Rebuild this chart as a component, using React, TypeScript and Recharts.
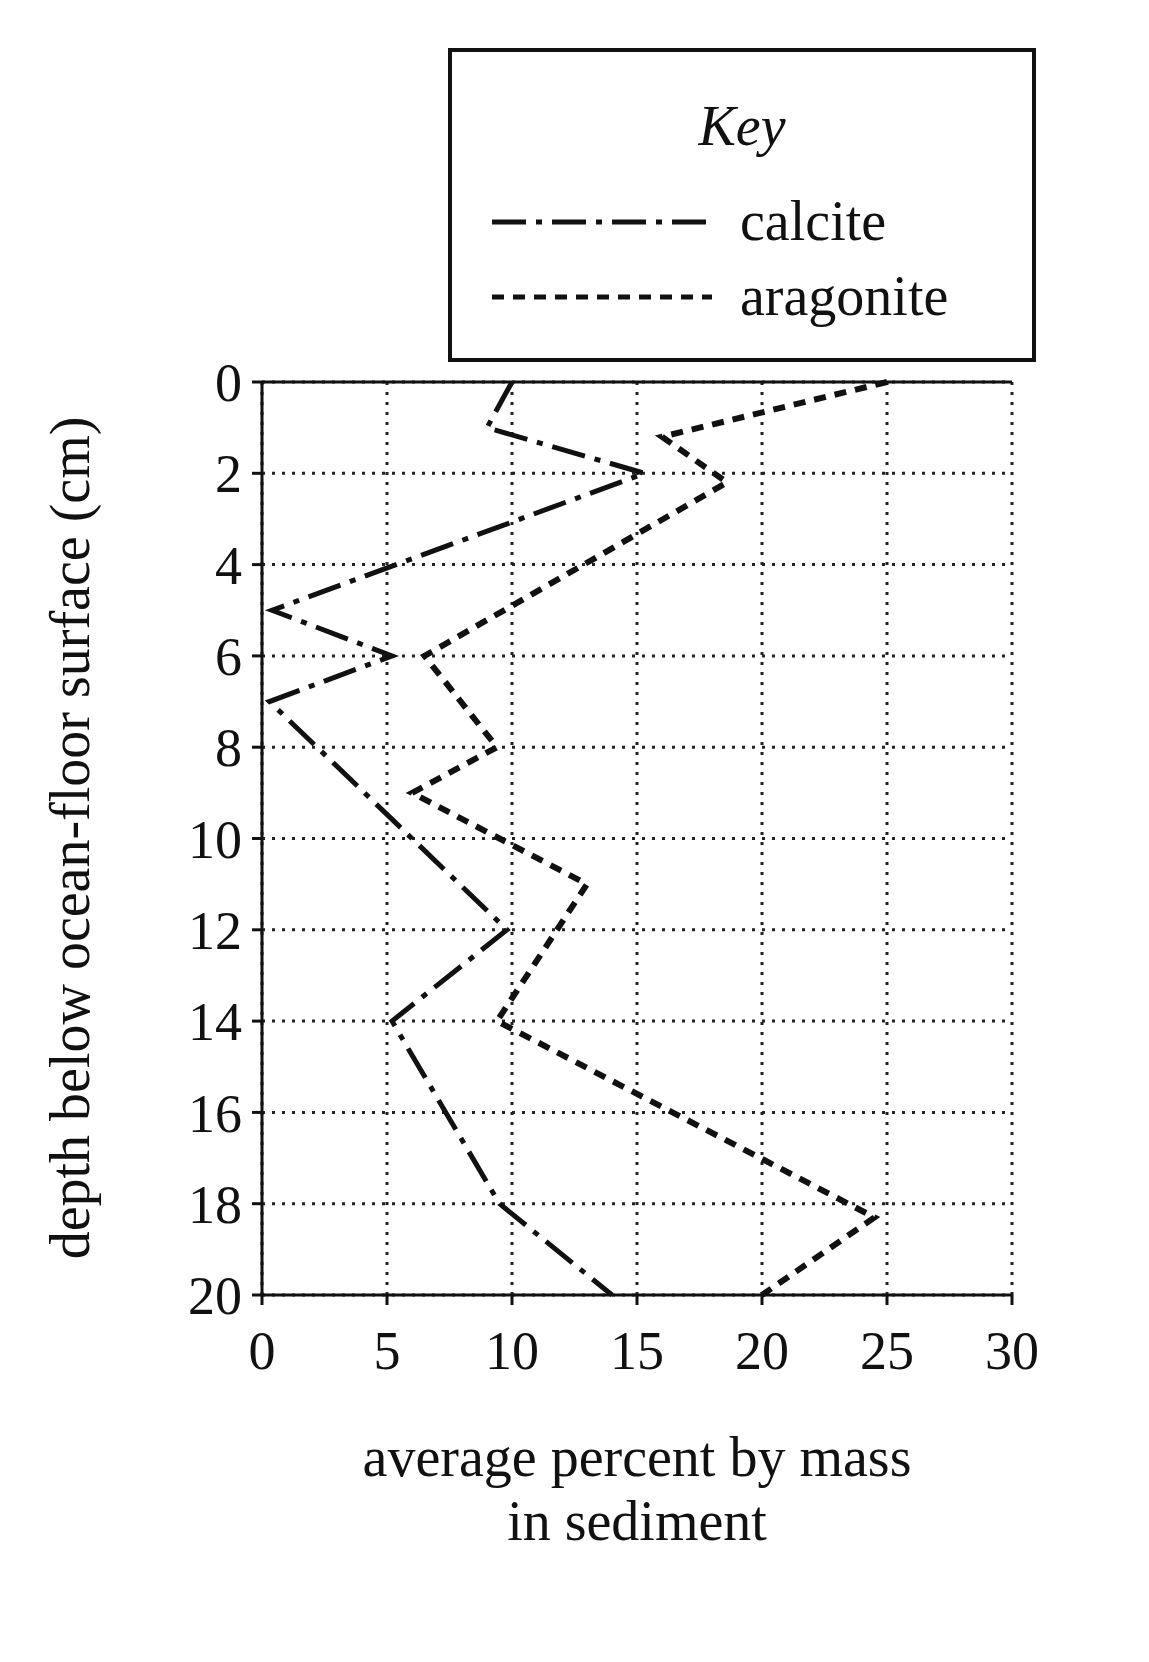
import { LineChart, Line, XAxis, YAxis, CartesianGrid, ReferenceLine } from 'recharts';

const percentTicks = [0, 5, 10, 15, 20, 25, 30];
const depthTicks = [0, 2, 4, 6, 8, 10, 12, 14, 16, 18, 20];

const calciteDepth = [0, 1, 2, 5, 6, 7, 12, 14, 18, 20];
const calcitePct = [10, 9, 15.3, 0.4, 5.2, 0.3, 9.8, 5.2, 9.5, 14];

const aragoniteDepth = [0, 1.2, 2.2, 6, 8, 9, 11, 14, 18.3, 20];
const aragonitePct = [25, 16, 18.6, 6.5, 9.4, 6, 13, 9.4, 24.5, 20];

const calcite = calciteDepth.map((d, i) => ({ depth: d, pct: calcitePct[i] }));
const aragonite = aragoniteDepth.map((d, i) => ({ depth: d, pct: aragonitePct[i] }));

const font = '"Liberation Serif", "DejaVu Serif", serif';

export default function App() {
  return (
    <div style={{ position: 'relative', width: 1149, height: 1662, margin: -8, fontFamily: font, background: '#fff' }}>
      <LineChart
        width={1149}
        height={1662}
        layout="vertical"
        margin={{ top: 382, right: 137, bottom: 287, left: 162 }}
      >
        <CartesianGrid stroke="#222" strokeWidth={3} strokeDasharray="3 7" />
        <XAxis
          type="number"
          dataKey="pct"
          domain={[0, 30]}
          ticks={percentTicks}
          stroke="#111"
          strokeWidth={3}
          tickSize={10}
          height={80}
          tick={{ fontSize: 54, fill: '#111', fontFamily: font, dy: 24 }}
        />
        <YAxis
          type="number"
          dataKey="depth"
          domain={[0, 20]}
          ticks={depthTicks}
          stroke="#111"
          strokeWidth={3}
          tickSize={10}
          width={100}
          tick={{ fontSize: 54, fill: '#111', fontFamily: font, dx: -8 }}
        />
        <ReferenceLine y={0} stroke="#111" strokeWidth={3} />
        <Line
          data={calcite}
          dataKey="pct"
          stroke="#111"
          strokeWidth={5}
          strokeDasharray="34 10 6 10"
          dot={false}
          isAnimationActive={false}
        />
        <Line
          data={aragonite}
          dataKey="pct"
          stroke="#111"
          strokeWidth={6}
          strokeDasharray="12 9"
          dot={false}
          isAnimationActive={false}
        />
      </LineChart>

      <div style={{ position: 'absolute', left: 70, top: 838, transform: 'translate(-50%, -50%) rotate(-90deg)', whiteSpace: 'nowrap', fontSize: 56, color: '#111' }}>
        depth below ocean-floor surface (cm)
      </div>

      <div style={{ position: 'absolute', left: 262, width: 750, top: 1425, textAlign: 'center', fontSize: 56, lineHeight: '64px', color: '#111' }}>
        average percent by mass<br />in sediment
      </div>

      <div style={{ position: 'absolute', left: 448, top: 48, width: 580, height: 306, border: '4px solid #111', color: '#111' }}>
        <div style={{ textAlign: 'center', fontStyle: 'italic', fontSize: 56, marginTop: 42 }}>Key</div>
        <svg width={580} height={200} style={{ position: 'absolute', left: 0, top: 110 }}>
          <line x1={40} y1={60} x2={260} y2={60} stroke="#111" strokeWidth={5} strokeDasharray="34 10 6 10" />
          <line x1={40} y1={135} x2={260} y2={135} stroke="#111" strokeWidth={5} strokeDasharray="12 9" />
          <text x={288} y={78} fontSize={56} fontFamily={font} fill="#111">calcite</text>
          <text x={288} y={153} fontSize={56} fontFamily={font} fill="#111">aragonite</text>
        </svg>
      </div>
    </div>
  );
}
